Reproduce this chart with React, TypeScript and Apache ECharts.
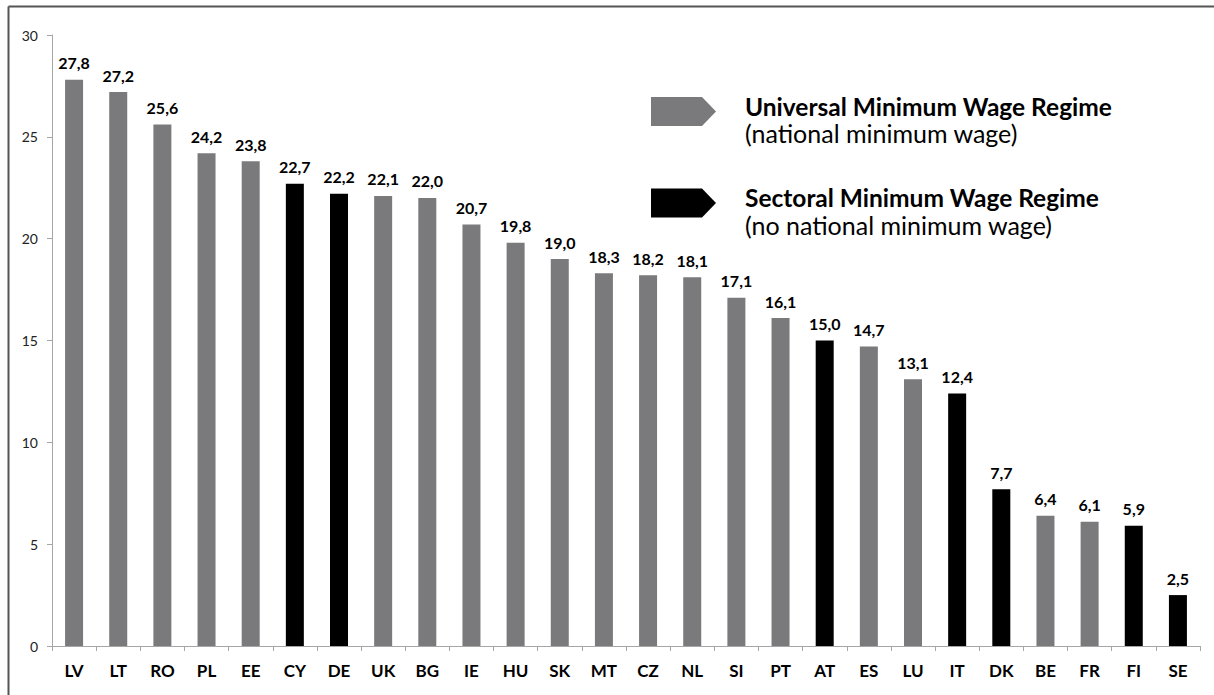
import React, { useEffect, useRef } from "react";
import * as echarts from "echarts";

const countries = ["LV", "LT", "RO", "PL", "EE", "CY", "DE", "UK", "BG", "IE", "HU", "SK", "MT", "CZ", "NL", "SI", "PT", "AT", "ES", "LU", "IT", "DK", "BE", "FR", "FI", "SE"];
const values = [27.8, 27.2, 25.6, 24.2, 23.8, 22.7, 22.2, 22.1, 22.0, 20.7, 19.8, 19.0, 18.3, 18.2, 18.1, 17.1, 16.1, 15.0, 14.7, 13.1, 12.4, 7.7, 6.4, 6.1, 5.9, 2.5];
// U = universal (national minimum wage), S = sectoral
const regimes = ["U", "U", "U", "U", "U", "S", "S", "U", "U", "U", "U", "U", "U", "U", "U", "U", "U", "S", "U", "U", "S", "S", "U", "U", "S", "S"];
const yTicks = { min: 0, max: 30, interval: 5 };
const legendTitles = ["Universal Minimum Wage Regime", "Sectoral Minimum Wage Regime"];
const legendSubtitles = ["(national minimum wage)", "(no national minimum wage)"];

const GRAY = "#7a7a7d";
const BLACK = "#000000";
const FONT = "Lato, 'Open Sans', sans-serif";

export default function App() {
  const ref = useRef<HTMLDivElement>(null);
  useEffect(() => {
    if (!ref.current) return;
    const chart = echarts.init(ref.current, null, { renderer: "svg" });
    const data = values.map((v, i) => ({
      value: v,
      itemStyle: { color: regimes[i] === "S" ? BLACK : GRAY },
    }));
    const arrow = (x: number, y: number, fill: string) => ({
      type: "polygon",
      shape: {
        points: [
          [x, y],
          [x + 51, y],
          [x + 65, y + 14.5],
          [x + 51, y + 29],
          [x, y + 29],
        ],
      },
      style: { fill },
    });
    chart.setOption({
      animation: false,
      backgroundColor: "#ffffff",
      grid: { left: 52, right: 14, top: 35, bottom: 49, containLabel: false },
      xAxis: {
        type: "category",
        data: countries,
        axisLine: { lineStyle: { color: "#a6a6a6", width: 1 } },
        axisTick: { show: true, length: 5, lineStyle: { color: "#a6a6a6" } },
        axisLabel: {
          color: "#000",
          fontFamily: FONT,
          fontWeight: "bold",
          fontSize: 17,
          margin: 16,
        },
      },
      yAxis: {
        type: "value",
        min: yTicks.min,
        max: yTicks.max,
        interval: yTicks.interval,
        splitLine: { show: false },
        axisLine: { show: true, lineStyle: { color: "#a6a6a6", width: 1 } },
        axisTick: { show: true, length: 5, lineStyle: { color: "#a6a6a6" } },
        axisLabel: {
          color: "#222",
          fontFamily: FONT,
          fontSize: 14,
          margin: 14,
        },
      },
      series: [
        {
          type: "bar",
          data,
          barWidth: 18,
          label: {
            show: true,
            position: "top",
            distance: 9,
            color: "#000",
            fontFamily: FONT,
            fontWeight: "bold",
            fontSize: 16,
            formatter: (p: any) => p.value.toFixed(1).replace(".", ","),
          },
        },
      ],
      graphic: [
        {
          type: "line",
          shape: { x1: 8.5, y1: 6.5, x2: 1214, y2: 6.5 },
          style: { stroke: "#555", lineWidth: 2 },
        },
        {
          type: "line",
          shape: { x1: 8.5, y1: 6.5, x2: 8.5, y2: 695 },
          style: { stroke: "#555", lineWidth: 2 },
        },
        arrow(651, 97, GRAY),
        arrow(651, 188.5, BLACK),
        {
          type: "text",
          x: 745,
          y: 106,
          style: { text: legendTitles[0], fontFamily: FONT, fontWeight: "bold", fontSize: 24.5, fill: "#000", verticalAlign: "middle" },
        },
        {
          type: "text",
          x: 745,
          y: 133,
          style: { text: legendSubtitles[0], fontFamily: FONT, fontSize: 25, fill: "#000", verticalAlign: "middle" },
        },
        {
          type: "text",
          x: 745,
          y: 197,
          style: { text: legendTitles[1], fontFamily: FONT, fontWeight: "bold", fontSize: 24.5, fill: "#000", verticalAlign: "middle" },
        },
        {
          type: "text",
          x: 745,
          y: 225,
          style: { text: legendSubtitles[1], fontFamily: FONT, fontSize: 25, fill: "#000", verticalAlign: "middle" },
        },
      ],
    });
    return () => chart.dispose();
  }, []);
  return (
    <div
      ref={ref}
      style={{ position: "fixed", left: 0, top: 0, width: 1214, height: 695 }}
    />
  );
}
